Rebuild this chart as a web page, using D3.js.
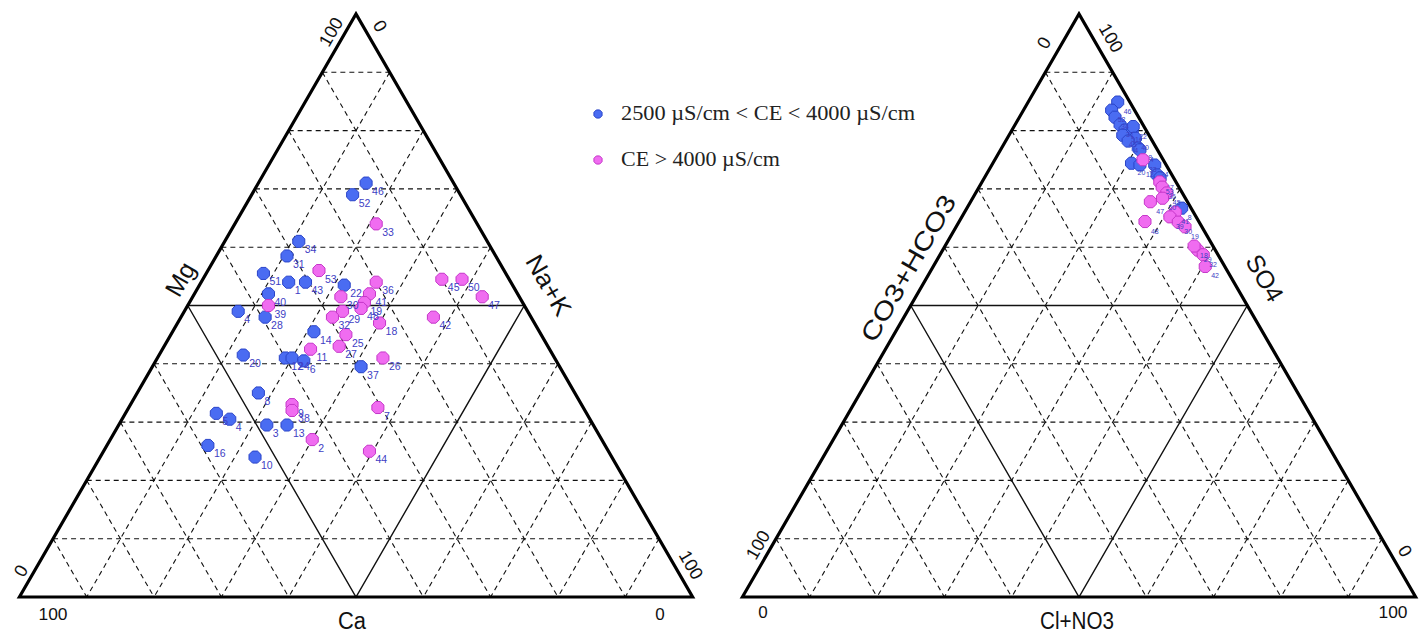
<!DOCTYPE html>
<html>
<head>
<meta charset="utf-8">
<script src="https://cdn.jsdelivr.net/npm/d3@7"></script>
<style>
  html, body { margin: 0; padding: 0; background: #fff; }
  svg { display: block; }
</style>
</head>
<body>
<svg id="chart" width="1426" height="634"></svg>
<script>
// ---- Cation composition (% meq) ----
const blueLabels = ["46","52","34","31","51","1","43","22","40","4","28","14","20","12","24","6","37","8","5","4","3","13","16","10"];
const blueCa  = [13, 16, 28, 31, 36, 33, 30.5, 25, 37, 43, 39.5, 33.5, 46, 40, 39, 37.5, 29.5, 47, 55, 53.5, 48.5, 45.5, 59, 53];
const blueMg  = [71, 69, 61, 58.5, 55.5, 54, 54, 53.5, 52, 49, 48, 45.5, 41.5, 41, 41, 40.5, 39.5, 35, 31.5, 30.5, 29.5, 29.5, 26, 24];
const blueNaK = [16, 15, 11, 10.5, 8.5, 13, 15.5, 21.5, 11, 8, 12.5, 21, 12.5, 19, 20, 22, 31, 18, 13.5, 16, 22, 25, 15, 23];

const pinkLabels = ["33","53","36","45","50","47","41","39","30","19","48","29","32","42","18","25","27","11","26","9","38","7","2","44"];
const pinkCa  = [15, 27.5, 20, 10, 7, 5.5, 22, 38, 26.5, 23.5, 24.5, 27.5, 29.5, 14.5, 23, 29, 31, 35.5, 25.5, 43, 43.5, 30.5, 43, 35.5];
const pinkMg  = [64, 56, 54, 54.5, 54.5, 51.5, 52, 50, 51.5, 50.5, 49.5, 49, 48, 48, 47, 45, 43, 42.5, 41, 33, 32, 32.5, 27, 25];
const pinkNaK = [21, 16.5, 26, 35.5, 38.5, 43, 26, 12, 22, 26, 26, 23.5, 22.5, 37.5, 30, 26, 26, 22, 33.5, 24, 24.5, 37, 30, 39.5];

// ---- Anion composition (% meq) ----
const blueAnionLabels = ["46","52","34","31","51","1","43","22","40","4","28","14","20","12","24","6","37","8"];
const blueHCO3 = [1.8, 3.4, 3.5, 3.4, 3.1, 2.2, 3.9, 1.6, 2.3, 3.6, 2.7, 2.6, 5.0, 3.9, 1.7, 2.2, 2.0, 1.4];
const blueSO4  = [84.9, 83.5, 82.3, 81.0, 80.1, 79.8, 79.2, 80.7, 78.7, 78.2, 77.0, 76.7, 74.4, 74.1, 74.1, 72.4, 71.9, 66.7];
const blueCl   = [13.3, 13.1, 14.2, 15.6, 16.8, 18.0, 16.9, 17.7, 19.0, 18.2, 20.3, 20.7, 20.6, 22.0, 24.2, 25.4, 26.1, 31.9];

const pinkAnionLabels = ["33","53","36","45","50","47","41","39","30","19","48","29","32","42","18"];
const pinkHCO3 = [3.0, 2.4, 2.5, 2.3, 3.4, 5.5, 2.7, 3.9, 3.1, 2.5, 8.0, 2.6, 2.2, 2.9, 2.8];
const pinkSO4  = [75.0, 71.2, 70.3, 69.3, 68.4, 67.8, 66.0, 65.2, 64.3, 63.5, 64.4, 59.5, 58.7, 56.7, 60.2];
const pinkCl   = [22.0, 26.4, 27.2, 28.4, 28.2, 26.7, 31.3, 30.9, 32.6, 34.0, 27.6, 37.9, 39.1, 40.4, 37.0];

const gridSteps = [10, 20, 30, 40, 60, 70, 80, 90];
const legendLabels = ["2500 µS/cm < CE < 4000 µS/cm", "CE > 4000 µS/cm"];

// ---- Layout ----
const svg = d3.select("#chart");
const apexY = 14, baseY = 597;
const side = (baseY - apexY) / Math.sin(Math.PI / 3);
const colors = {
  blue:  { fill: "#4a6cf2", stroke: "#2a44c8" },
  pink:  { fill: "#f06cf0", stroke: "#c436c8" }
};

// vertical position from the apex component, horizontal offset from right + half apex component
const yScale = d3.scaleLinear().domain([0, 100]).range([baseY, apexY]);
const xScale = d3.scaleLinear().domain([0, 100]).range([0, side]);

function makeTernary(cx) {
  const x0 = cx - side / 2;
  // (left corner, apex, right corner) -> pixel
  return (l, t, r) => {
    const s = l + t + r;
    const tt = t / s * 100, rr = r / s * 100;
    return [x0 + xScale(rr + tt / 2), yScale(tt)];
  };
}

// octagonal marker
const octagon = {
  draw(ctx, size) {
    const r = Math.sqrt(size / 2.83);
    for (let i = 0; i < 8; i++) {
      const a = Math.PI / 8 + i * Math.PI / 4;
      const px = r * Math.cos(a), py = r * Math.sin(a);
      if (i === 0) ctx.moveTo(px, py); else ctx.lineTo(px, py);
    }
    ctx.closePath();
  }
};
const markerPath = d3.symbol().type(octagon).size(120)();
const legendMarkerPath = d3.symbol().type(octagon).size(55)();

function drawTriangle(cx) {
  const P = makeTernary(cx);
  const g = svg.append("g");
  const line = d3.line();

  // dashed grid at 10 % steps parallel to each side
  gridSteps.forEach(v => {
    const w = 100 - v;
    [[P(w, v, 0), P(0, v, w)],   // constant apex component
     [P(v, w, 0), P(v, 0, w)],   // constant left component
     [P(0, w, v), P(w, 0, v)]]   // constant right component
      .forEach(seg => g.append("path")
        .attr("d", line(seg))
        .attr("fill", "none")
        .attr("stroke", "#111")
        .attr("stroke-width", 1.1)
        .attr("stroke-dasharray", "5,4"));
  });

  // inner solid triangle of the 50 % lines
  g.append("path")
    .attr("d", line([P(50, 50, 0), P(0, 50, 50), P(50, 0, 50)]) + "Z")
    .attr("fill", "none").attr("stroke", "#111").attr("stroke-width", 1.4);

  // outline
  g.append("path")
    .attr("d", line([P(100, 0, 0), P(0, 100, 0), P(0, 0, 100)]) + "Z")
    .attr("fill", "none").attr("stroke", "#000").attr("stroke-width", 3.2)
    .attr("stroke-linejoin", "miter");
  return { g, P };
}

function drawSamples(g, P, labels, L, T, R, col, fontSize) {
  const pts = labels.map((lab, i) => ({ lab, xy: P(L[i], T[i], R[i]) }));
  g.selectAll(null).data(pts).enter().append("path")
    .attr("d", markerPath)
    .attr("transform", d => `translate(${d.xy[0]},${d.xy[1]})`)
    .attr("fill", col.fill).attr("stroke", col.stroke).attr("stroke-width", 1);
  g.selectAll(null).data(pts).enter().append("text")
    .attr("x", d => d.xy[0] + 6)
    .attr("y", d => d.xy[1] + 12)
    .attr("font-family", "Liberation Sans, Arial, sans-serif")
    .attr("font-size", fontSize)
    .attr("fill", "#4040c4")
    .text(d => d.lab);
}

function label(text, x, y, rot, size, len) {
  const t = svg.append("text")
    .attr("transform", `translate(${x},${y}) rotate(${rot})`)
    .attr("text-anchor", "middle")
    .attr("dominant-baseline", "central")
    .attr("font-family", "Liberation Sans, Arial, sans-serif")
    .attr("font-size", size)
    .attr("fill", "#111")
    .text(text);
  if (len) t.attr("textLength", len).attr("lengthAdjust", "spacingAndGlyphs");
}

// ---- Cation triangle ----
const left = drawTriangle(356);
drawSamples(left.g, left.P, blueLabels, blueCa, blueMg, blueNaK, colors.blue, 10.5);
drawSamples(left.g, left.P, pinkLabels, pinkCa, pinkMg, pinkNaK, colors.pink, 10.5);
label("Mg", 180, 279, -60, 25);
label("Na+K", 549, 285, 60, 25, 66);
label("Ca", 352, 621, 0, 23, 28);
label("100", 331, 32, -60, 18);
label("0", 380, 26, 60, 18);
label("0", 21, 571, -60, 18);
label("100", 691, 565, 60, 18);
label("100", 53, 614, 0, 17, 29);
label("0", 660, 614, 0, 17);

// ---- Anion triangle ----
const right = drawTriangle(1079);
drawSamples(right.g, right.P, blueAnionLabels, blueHCO3, blueSO4, blueCl, colors.blue, 7);
drawSamples(right.g, right.P, pinkAnionLabels, pinkHCO3, pinkSO4, pinkCl, colors.pink, 7);
label("CO3+HCO3", 908, 268, -60, 25, 165);
label("SO4", 1265, 278, 60, 25);
label("Cl+NO3", 1077, 621, 0, 23, 74);
label("0", 1044, 43, -60, 18);
label("100", 1111, 38, 60, 18);
label("100", 758, 545, -60, 18);
label("0", 1405, 551, 60, 18);
label("0", 763, 612, 0, 17);
label("100", 1393, 612, 0, 17, 29);

// ---- Legend ----
const legend = svg.append("g");
const legendLengths = [294, 159];
[colors.blue, colors.pink].forEach((col, i) => {
  const y = 114 + i * 46;
  legend.append("path").attr("d", legendMarkerPath)
    .attr("transform", `translate(598,${y})`)
    .attr("fill", col.fill).attr("stroke", col.stroke).attr("stroke-width", 1);
  legend.append("text")
    .attr("x", 621).attr("y", y + 6)
    .attr("font-family", "Liberation Serif, Times New Roman, serif")
    .attr("font-size", 20)
    .attr("textLength", legendLengths[i])
    .attr("lengthAdjust", "spacingAndGlyphs")
    .attr("fill", "#222")
    .text(legendLabels[i]);
});
</script>
</body>
</html>
